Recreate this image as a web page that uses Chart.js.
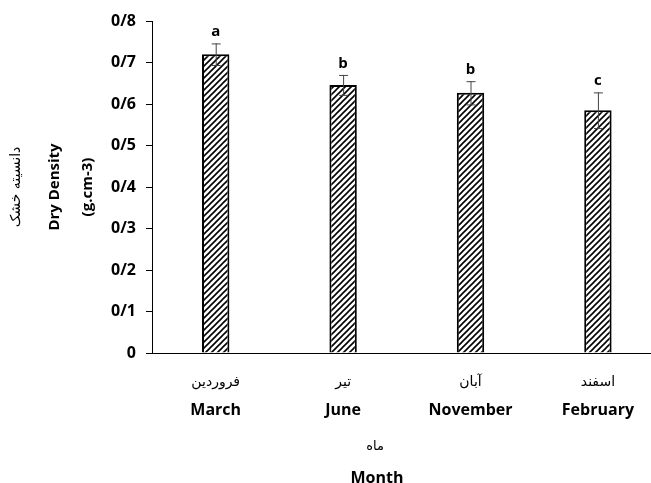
<!DOCTYPE html>
<html>
<head>
<meta charset="utf-8">
<script src="https://cdn.jsdelivr.net/npm/chart.js@4.4.0/dist/chart.umd.min.js"></script>
<style>
  html, body { margin: 0; padding: 0; background: #fff; overflow: hidden; }
  #box { width: 682px; height: 483px; }
</style>
</head>
<body>
<div id="box"><canvas id="chart"></canvas></div>
<script>
let monthsEn = ['March', 'June', 'November', 'February']
let monthsFa = ['فروردین', 'تیر', 'آبان', 'اسفند']
let density = [0.72, 0.646, 0.627, 0.585]
let errors = [0.026, 0.024, 0.028, 0.043]
let letters = ['a', 'b', 'b', 'c']
let yTickLabels = ['0', '0/1', '0/2', '0/3', '0/4', '0/5', '0/6', '0/7', '0/8']

// hatch pattern like the excel bars
function makeHatch() {
    let c = document.createElement('canvas')
    c.width = 6
    c.height = 6
    let g = c.getContext('2d')
    g.fillStyle = '#fff'
    g.fillRect(0, 0, 6, 6)
    g.strokeStyle = '#000'
    g.lineWidth = 1.6
    g.beginPath()
    g.moveTo(-1, 7); g.lineTo(7, -1)
    g.moveTo(-4, 4); g.lineTo(4, -4)
    g.moveTo(2, 10); g.lineTo(10, 2)
    g.stroke()
    return g.createPattern(c, 'repeat')
}

const extras = {
    id: 'extras',
    afterDatasetsDraw(chart) {
        let ctx = chart.ctx
        let x = chart.scales.x
        let y = chart.scales.y
        ctx.save()
        // error bars + letters
        density.forEach((v, i) => {
            let cx = x.getPixelForValue(i)
            let top = y.getPixelForValue(v + errors[i])
            let bot = y.getPixelForValue(v - errors[i])
            ctx.strokeStyle = '#444'
            ctx.lineWidth = 1
            ctx.beginPath()
            ctx.moveTo(cx + 0.5, top); ctx.lineTo(cx + 0.5, bot)
            ctx.moveTo(cx - 4, top + 0.5); ctx.lineTo(cx + 5, top + 0.5)
            ctx.moveTo(cx - 4, bot + 0.5); ctx.lineTo(cx + 5, bot + 0.5)
            ctx.stroke()
            ctx.fillStyle = '#000'
            ctx.font = 'bold 15px "Open Sans"'
            ctx.textAlign = 'center'
            ctx.textBaseline = 'bottom'
            ctx.fillText(letters[i], cx, top - 4)
        })
        // persian month names
        ctx.font = '14px "DejaVu Sans"'
        ctx.textBaseline = 'middle'
        monthsFa.forEach((m, i) => {
            ctx.fillText(m, x.getPixelForValue(i), 382)
        })
        // x title
        ctx.font = '13px "DejaVu Sans"'
        ctx.fillText('ماه', 375, 447)
        ctx.font = 'bold 16px "Open Sans"'
        ctx.fillText('Month', 377, 478)
        // y title (rotated)
        ctx.translate(0, 187)
        ctx.rotate(-Math.PI / 2)
        ctx.font = '14px "DejaVu Sans"'
        ctx.fillText('دانسیته خشک', 0, 16)
        ctx.font = 'bold 15px "Open Sans"'
        ctx.fillText('Dry Density', 0, 55)
        ctx.fillText('(g.cm-3)', 0, 88)
        ctx.restore()
    }
}

new Chart(document.getElementById('chart'), {
    type: 'bar',
    data: {
        labels: monthsEn,
        datasets: [{
            data: density,
            backgroundColor: makeHatch(),
            borderColor: '#000',
            borderWidth: 2,
            barPercentage: 0.215,
            categoryPercentage: 1
        }]
    },
    options: {
        responsive: true,
        maintainAspectRatio: false,
        animation: false,
        layout: { padding: { top: 21, right: 0, left: 0, bottom: 0 } },
        plugins: { legend: { display: false }, tooltip: { enabled: false } },
        scales: {
            x: {
                grid: { display: false, drawTicks: false },
                border: { color: '#000', width: 1 },
                ticks: {
                    color: '#000',
                    font: { family: 'Open Sans', weight: 'bold', size: 16 },
                    padding: 48,
                    maxRotation: 0
                },
                afterFit: s => { s.height = 130 }
            },
            y: {
                min: 0,
                max: 0.8,
                grid: { drawOnChartArea: false, color: '#000', tickLength: 6 },
                border: { color: '#000', width: 1 },
                ticks: {
                    stepSize: 0.1,
                    color: '#000',
                    padding: 10,
                    font: { family: 'Open Sans', weight: 'bold', size: 16 },
                    callback: (v, i) => yTickLabels[i]
                },
                afterFit: s => { s.width = 152 }
            }
        }
    },
    plugins: [extras]
})
</script>
</body>
</html>
